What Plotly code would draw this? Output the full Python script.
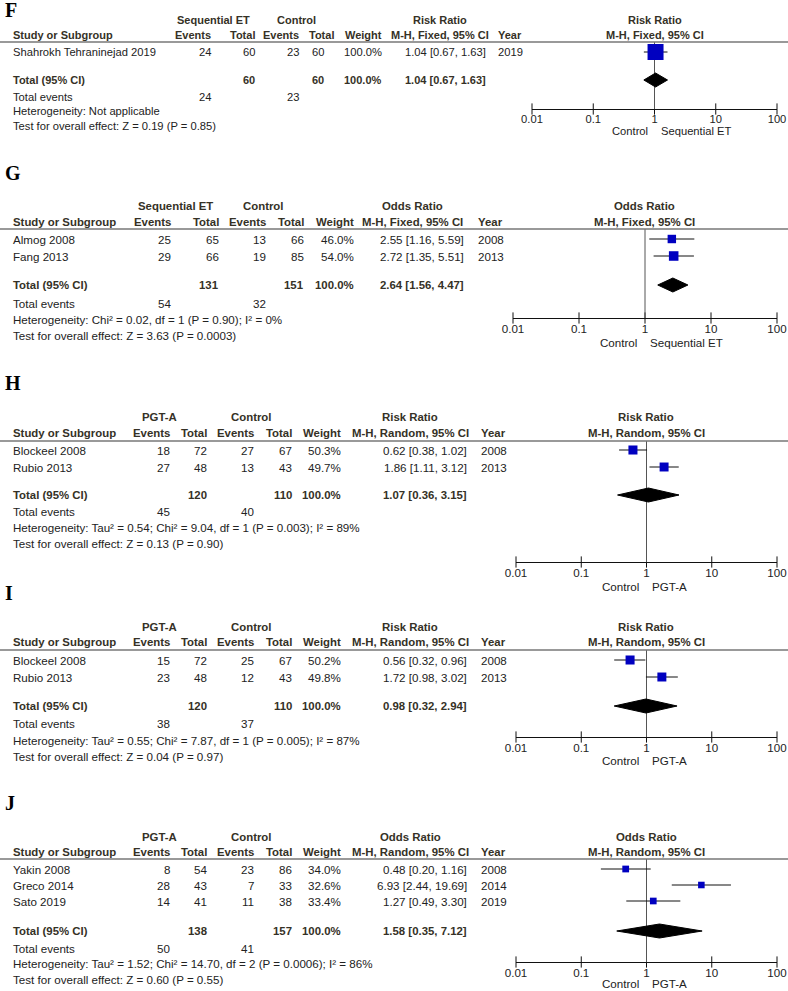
import plotly.graph_objects as go

W, H = 788, 991

# ---------------- data ----------------
# F
studies_F = ["Shahrokh Tehraninejad 2019"]
ev_exp_F = [24]; tot_exp_F = [60]; ev_ctl_F = [23]; tot_ctl_F = [60]
weight_F = [100.0]
est_F = [1.04]; lo_F = [0.67]; hi_F = [1.63]; year_F = [2019]
pooled_F = [1.04, 0.67, 1.63]
sum_tot_F = [60, 60]; sum_ev_F = [24, 23]
het_F = "Heterogeneity: Not applicable"
test_F = "Test for overall effect: Z = 0.19 (P = 0.85)"

# G
studies_G = ["Almog 2008", "Fang 2013"]
ev_exp_G = [25, 29]; tot_exp_G = [65, 66]; ev_ctl_G = [13, 19]; tot_ctl_G = [66, 85]
weight_G = [46.0, 54.0]
est_G = [2.55, 2.72]; lo_G = [1.16, 1.35]; hi_G = [5.59, 5.51]; year_G = [2008, 2013]
pooled_G = [2.64, 1.56, 4.47]
sum_tot_G = [131, 151]; sum_ev_G = [54, 32]
het_G = "Heterogeneity: Chi² = 0.02, df = 1 (P = 0.90); I² = 0%"
test_G = "Test for overall effect: Z = 3.63 (P = 0.0003)"

# H
studies_H = ["Blockeel 2008", "Rubio 2013"]
ev_exp_H = [18, 27]; tot_exp_H = [72, 48]; ev_ctl_H = [27, 13]; tot_ctl_H = [67, 43]
weight_H = [50.3, 49.7]
est_H = [0.62, 1.86]; lo_H = [0.38, 1.11]; hi_H = [1.02, 3.12]; year_H = [2008, 2013]
pooled_H = [1.07, 0.36, 3.15]
sum_tot_H = [120, 110]; sum_ev_H = [45, 40]
het_H = "Heterogeneity: Tau² = 0.54; Chi² = 9.04, df = 1 (P = 0.003); I² = 89%"
test_H = "Test for overall effect: Z = 0.13 (P = 0.90)"

# I
studies_I = ["Blockeel 2008", "Rubio 2013"]
ev_exp_I = [15, 23]; tot_exp_I = [72, 48]; ev_ctl_I = [25, 12]; tot_ctl_I = [67, 43]
weight_I = [50.2, 49.8]
est_I = [0.56, 1.72]; lo_I = [0.32, 0.98]; hi_I = [0.96, 3.02]; year_I = [2008, 2013]
pooled_I = [0.98, 0.32, 2.94]
sum_tot_I = [120, 110]; sum_ev_I = [38, 37]
het_I = "Heterogeneity: Tau² = 0.55; Chi² = 7.87, df = 1 (P = 0.005); I² = 87%"
test_I = "Test for overall effect: Z = 0.04 (P = 0.97)"

# J
studies_J = ["Yakin 2008", "Greco 2014", "Sato 2019"]
ev_exp_J = [8, 28, 14]; tot_exp_J = [54, 43, 41]; ev_ctl_J = [23, 7, 11]; tot_ctl_J = [86, 33, 38]
weight_J = [34.0, 32.6, 33.4]
est_J = [0.48, 6.93, 1.27]; lo_J = [0.20, 2.44, 0.49]; hi_J = [1.16, 19.69, 3.30]; year_J = [2008, 2014, 2019]
pooled_J = [1.58, 0.35, 7.12]
sum_tot_J = [138, 157]; sum_ev_J = [50, 41]
het_J = "Heterogeneity: Tau² = 1.52; Chi² = 14.70, df = 2 (P = 0.0006); I² = 86%"
test_J = "Test for overall effect: Z = 0.60 (P = 0.55)"

tick_vals = [0.01, 0.1, 1, 10, 100]
tick_text = ["0.01", "0.1", "1", "10", "100"]

panels = [
    dict(label="F", grp_e="Sequential ET", grp_c="Control", measure="Risk Ratio", method="M-H, Fixed, 95% CI",
         studies=studies_F, ev_e=ev_exp_F, tot_e=tot_exp_F, ev_c=ev_ctl_F, tot_c=tot_ctl_F, wt=weight_F,
         est=est_F, lo=lo_F, hi=hi_F, year=year_F, pooled=pooled_F, sum_tot=sum_tot_F, sum_ev=sum_ev_F,
         het=het_F, test=test_F, fav_l="Control", fav_r="Sequential ET"),
    dict(label="G", grp_e="Sequential ET", grp_c="Control", measure="Odds Ratio", method="M-H, Fixed, 95% CI",
         studies=studies_G, ev_e=ev_exp_G, tot_e=tot_exp_G, ev_c=ev_ctl_G, tot_c=tot_ctl_G, wt=weight_G,
         est=est_G, lo=lo_G, hi=hi_G, year=year_G, pooled=pooled_G, sum_tot=sum_tot_G, sum_ev=sum_ev_G,
         het=het_G, test=test_G, fav_l="Control", fav_r="Sequential ET"),
    dict(label="H", grp_e="PGT-A", grp_c="Control", measure="Risk Ratio", method="M-H, Random, 95% CI",
         studies=studies_H, ev_e=ev_exp_H, tot_e=tot_exp_H, ev_c=ev_ctl_H, tot_c=tot_ctl_H, wt=weight_H,
         est=est_H, lo=lo_H, hi=hi_H, year=year_H, pooled=pooled_H, sum_tot=sum_tot_H, sum_ev=sum_ev_H,
         het=het_H, test=test_H, fav_l="Control", fav_r="PGT-A"),
    dict(label="I", grp_e="PGT-A", grp_c="Control", measure="Risk Ratio", method="M-H, Random, 95% CI",
         studies=studies_I, ev_e=ev_exp_I, tot_e=tot_exp_I, ev_c=ev_ctl_I, tot_c=tot_ctl_I, wt=weight_I,
         est=est_I, lo=lo_I, hi=hi_I, year=year_I, pooled=pooled_I, sum_tot=sum_tot_I, sum_ev=sum_ev_I,
         het=het_I, test=test_I, fav_l="Control", fav_r="PGT-A"),
    dict(label="J", grp_e="PGT-A", grp_c="Control", measure="Odds Ratio", method="M-H, Random, 95% CI",
         studies=studies_J, ev_e=ev_exp_J, tot_e=tot_exp_J, ev_c=ev_ctl_J, tot_c=tot_ctl_J, wt=weight_J,
         est=est_J, lo=lo_J, hi=hi_J, year=year_J, pooled=pooled_J, sum_tot=sum_tot_J, sum_ev=sum_ev_J,
         het=het_J, test=test_J, fav_l="Control", fav_r="PGT-A"),
]

# ---------------- layout (pixel positions) ----------------
cols_F = dict(name=12, ev_e=212, tot_e=256, ev_c=300, tot_c=325, tot_c_h=335, wt=383, ci=487, year=497,
              grp_e=213, grp_c=296, eff=440, plot=655, ax0=532, ax1=777, fs=11.2, fb=11.0)
cols_G = dict(name=12, ev_e=172, tot_e=220, ev_c=267, tot_c=305, tot_c_h=305, wt=355, ci=465, year=477,
              grp_e=175, grp_c=263, eff=412, plot=644, ax0=513, ax1=777, fs=11.6, fb=11.4)
cols_P = dict(name=12, ev_e=171, tot_e=208, ev_c=255, tot_c=293, tot_c_h=293, wt=342, ci=468, year=480,
              grp_e=159, grp_c=251, eff=410, plot=646, ax0=516, ax1=777, fs=11.6, fb=11.4)

rows_layout = [
    dict(cols=cols_F, lab=10, h1=20, h2=35, line=42, rows=[52], tot=80, tev=97, het=111, test=126,
         axis=109, fav=131),
    dict(cols=cols_G, lab=173, h1=206, h2=222, line=229, rows=[239, 256], tot=285, tev=303, het=319, test=335,
         axis=318, fav=342),
    dict(cols=cols_P, lab=383, h1=417, h2=433, line=441, rows=[450, 467], tot=495, tev=511, het=527, test=543,
         axis=562, fav=586),
    dict(cols=cols_P, lab=593, h1=627, h2=642, line=650, rows=[660, 677], tot=706, tev=723, het=740, test=756,
         axis=737, fav=760),
    dict(cols=cols_P, lab=803, h1=837, h2=852, line=859, rows=[869, 885, 901], tot=931, tev=948, het=963, test=979,
         axis=962, fav=983),
]

SANS = "Liberation Sans, Arial, sans-serif"
SERIF = "Liberation Serif, Times New Roman, serif"
BODY = "#222222"
HEAD = "#353126"
SQ = "#0000c0"

fig = go.Figure()
ann = []
shapes = []


def txt(x, y, s, anchor="left", bold=False, color=BODY, size=11, family=SANS):
    if bold:
        s = "<b>" + s + "</b>"
    ann.append(dict(x=x, y=y, xref="x", yref="y", text=s, showarrow=False, xanchor=anchor,
                    yanchor="middle", font=dict(family=family, size=size, color=color), borderpad=0))


layout_axes = {}
for i, (p, L) in enumerate(zip(panels, rows_layout)):
    c = L["cols"]
    fs, fb = c["fs"], c["fb"]
    xa = "x%d" % (i + 2)
    xname = "xaxis%d" % (i + 2)
    # panel letter
    txt(4, L["lab"], "<b>%s</b>" % p["label"], family=SERIF, size=20, color="#000000")
    # headers line 1
    txt(c["grp_e"], L["h1"], p["grp_e"], anchor="center", bold=True, color=HEAD, size=fb)
    txt(c["grp_c"], L["h1"], p["grp_c"], anchor="center", bold=True, color=HEAD, size=fb)
    txt(c["eff"], L["h1"], p["measure"], anchor="center", bold=True, color=HEAD, size=fb)
    txt(c["plot"], L["h1"], p["measure"], anchor="center", bold=True, color=HEAD, size=fb)
    # headers line 2
    txt(c["name"], L["h2"], "Study or Subgroup", bold=True, color=HEAD, size=fb)
    txt(c["ev_e"], L["h2"], "Events", anchor="right", bold=True, color=HEAD, size=fb)
    txt(c["tot_e"], L["h2"], "Total", anchor="right", bold=True, color=HEAD, size=fb)
    txt(c["ev_c"], L["h2"], "Events", anchor="right", bold=True, color=HEAD, size=fb)
    txt(c["tot_c_h"], L["h2"], "Total", anchor="right", bold=True, color=HEAD, size=fb)
    txt(c["wt"], L["h2"], "Weight", anchor="right", bold=True, color=HEAD, size=fb)
    txt(c["eff"], L["h2"], p["method"], anchor="center", bold=True, color=HEAD, size=fb)
    txt(c["year"], L["h2"], "Year", bold=True, color=HEAD, size=fb)
    txt(c["plot"], L["h2"], p["method"], anchor="center", bold=True, color=HEAD, size=fb)
    shapes.append(dict(type="line", xref="x", yref="y", x0=0, x1=W, y0=L["line"], y1=L["line"],
                       line=dict(color="#777777", width=1.3)))
    # study rows
    for k, s in enumerate(p["studies"]):
        y = L["rows"][k]
        txt(c["name"], y, s, size=fs)
        txt(c["ev_e"], y, str(p["ev_e"][k]), anchor="right", size=fs)
        txt(c["tot_e"], y, str(p["tot_e"][k]), anchor="right", size=fs)
        txt(c["ev_c"], y, str(p["ev_c"][k]), anchor="right", size=fs)
        txt(c["tot_c"], y, str(p["tot_c"][k]), anchor="right", size=fs)
        txt(c["wt"], y, "%.1f%%" % p["wt"][k], anchor="right", size=fs)
        txt(c["ci"], y, "%.2f [%.2f, %.2f]" % (p["est"][k], p["lo"][k], p["hi"][k]), anchor="right", size=fs)
        txt(c["year"], y, str(p["year"][k]), size=fs)
    # total row
    txt(c["name"], L["tot"], "Total (95% CI)", bold=True, color=HEAD, size=fb)
    txt(c["tot_e"], L["tot"], str(p["sum_tot"][0]), anchor="right", bold=True, color=HEAD, size=fb)
    txt(c["tot_c"], L["tot"], str(p["sum_tot"][1]), anchor="right", bold=True, color=HEAD, size=fb)
    txt(c["wt"], L["tot"], "%.1f%%" % sum(p["wt"]), anchor="right", bold=True, color=HEAD, size=fb)
    txt(c["ci"], L["tot"], "%.2f [%.2f, %.2f]" % tuple(p["pooled"]), anchor="right", bold=True, color=HEAD,
        size=fb)
    txt(c["name"], L["tev"], "Total events", size=fs)
    txt(c["ev_e"], L["tev"], str(p["sum_ev"][0]), anchor="right", size=fs)
    txt(c["ev_c"], L["tev"], str(p["sum_ev"][1]), anchor="right", size=fs)
    txt(c["name"], L["het"], p["het"], size=fs)
    txt(c["name"], L["test"], p["test"], size=fs)
    # favours labels
    txt(c["plot"] - 6, L["fav"], p["fav_l"], anchor="right", size=fs)
    txt(c["plot"] + 5, L["fav"], p["fav_r"], anchor="left", size=fs)

    # forest x axis
    layout_axes[xname] = dict(type="log", range=[-2, 2], domain=[c["ax0"] / W, c["ax1"] / W],
                              anchor="free", position=1 - L["axis"] / H, showline=True,
                              linecolor="#111111", linewidth=1, tickvals=tick_vals, ticktext=tick_text,
                              ticks="", showgrid=False, zeroline=False, automargin=False,
                              tickfont=dict(family=SANS, size=fs, color=BODY), fixedrange=True)
    # tick marks crossing the axis line
    fig.add_trace(go.Scatter(x=tick_vals, y=[L["axis"]] * len(tick_vals), xaxis=xa, yaxis="y",
                             mode="markers", marker=dict(symbol="line-ns", size=8,
                                                         line=dict(color="#111111", width=1)),
                             hoverinfo="skip", cliponaxis=False))
    # vertical no-effect line
    fig.add_trace(go.Scatter(x=[1, 1], y=[L["line"], L["axis"]], xaxis=xa, yaxis="y", mode="lines",
                             line=dict(color="#555555", width=1), hoverinfo="skip"))
    # whiskers and squares
    for k in range(len(p["studies"])):
        y = L["rows"][k]
        fig.add_trace(go.Scatter(x=[p["lo"][k], p["hi"][k]], y=[y, y], xaxis=xa, yaxis="y",
                                 mode="lines", line=dict(color="#111111", width=1), hoverinfo="skip"))
    fig.add_trace(go.Scatter(x=p["est"], y=L["rows"], xaxis=xa, yaxis="y", mode="markers",
                             marker=dict(symbol="square", color=SQ, opacity=1,
                                         size=[2 + 0.14 * w for w in p["wt"]], line=dict(width=0)),
                             opacity=1, hoverinfo="skip", cliponaxis=False))
    # diamond
    e, lo, hi = p["pooled"]
    yt = L["tot"]
    hd = 7
    fig.add_trace(go.Scatter(x=[lo, e, hi, e, lo], y=[yt, yt - hd, yt, yt + hd, yt], xaxis=xa, yaxis="y",
                             mode="lines", fill="toself", fillcolor="#000000",
                             line=dict(color="#000000", width=1), hoverinfo="skip"))

fig.update_layout(
    width=W, height=H, margin=dict(l=0, r=0, t=0, b=0, autoexpand=False),
    paper_bgcolor="white", plot_bgcolor="rgba(0,0,0,0)", showlegend=False,
    xaxis=dict(range=[0, W], domain=[0, 1], visible=False, fixedrange=True, automargin=False),
    yaxis=dict(range=[H, 0], domain=[0, 1], visible=False, fixedrange=True, automargin=False),
    annotations=ann, shapes=shapes,
    **layout_axes,
)

fig.write_html("out.html", config={"displayModeBar": False},
               post_script="document.body.style.margin='0';document.body.style.overflow='hidden';")
